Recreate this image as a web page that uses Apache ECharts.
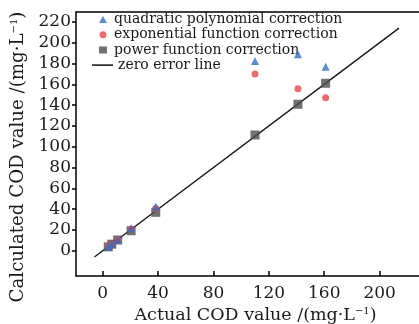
<!DOCTYPE html>
<html><head><meta charset="utf-8">
<script src="https://cdn.jsdelivr.net/npm/echarts@6/dist/echarts.min.js"></script>
<style>html,body{margin:0;padding:0;background:#fff}#c{width:419px;height:324px}</style>
</head><body><div id="c"></div>
<script>
const actual = [4, 6.5, 10.8, 20.5, 38.3, 110, 141, 161];
const quadratic = [3.8, 6.6, 10.6, 21.5, 42.3, 182.4, 188.8, 176.9];
const exponential = [3.9, 6.5, 10.4, 20.8, 40.6, 169.9, 155.8, 147.1];
const power = [3.7, 6.3, 10.3, 19.2, 36.9, 111.3, 140.8, 161];
const zeroLineX = [-6, 214];
const xTicks = [0, 40, 80, 120, 160, 200];
const yTicks = [0, 20, 40, 60, 80, 100, 120, 140, 160, 180, 200, 220];
const names = ['quadratic polynomial correction','exponential function correction','power function correction','zero error line'];

const font = 'DejaVu Serif';
const txt = '#1a1a1a';
const pair = (xs, ys) => xs.map((x, i) => [x, ys[i]]);
const chart = echarts.init(document.getElementById('c'), null, {renderer: 'canvas'});
chart.setOption({
  animation: false,
  backgroundColor: '#fff',
  grid: {left: 76, top: 12, width: 359, height: 264, outerBoundsMode: 'none', containLabel: false},
  legend: [{
    orient: 'vertical', left: 94, top: 7, itemGap: 0, itemWidth: 8, itemHeight: 7,
    textStyle: {fontFamily: font, fontSize: 14, color: txt, lineHeight: 15.2, padding: [0, 0, 0, 2]},
    data: [
      {name: names[0], icon: 'triangle'},
      {name: names[1], icon: 'circle'},
      {name: names[2], icon: 'rect'}
    ]
  }, {
    orient: 'vertical', left: 87, top: 52.5, itemGap: 0, itemWidth: 21, itemHeight: 1.5,
    textStyle: {fontFamily: font, fontSize: 14, color: txt, lineHeight: 15.2},
    data: [{name: names[3], icon: 'rect', itemStyle: {color: '#111'}}]
  }],
  xAxis: [{
    type: 'value', min: -19.3, max: 240, interval: 40,
    axisLine: {onZero: false, lineStyle: {color: '#000', width: 1.5}},
    axisTick: {show: true, inside: true, length: 5, lineStyle: {color: '#000', width: 1.5}, customValues: xTicks},
    axisLabel: {fontFamily: font, fontSize: 17, color: txt, margin: 9, customValues: xTicks},
    splitLine: {show: false},
    name: '{a|Actual COD value /(mg·L}{s|−1}{a|)}',
    nameLocation: 'middle', nameGap: 26,
    nameTextStyle: {rich: {a: {fontFamily: font, fontSize: 17.5, color: txt},
      s: {fontFamily: font, fontSize: 10, color: txt, padding: [0, 0, 8, 0]}}}
  }, {
    type: 'value', position: 'top', min: -19.3, max: 240,
    axisLine: {show: true, onZero: false, lineStyle: {color: '#000', width: 1.5}},
    axisTick: {show: false}, axisLabel: {show: false}, splitLine: {show: false}
  }],
  yAxis: {
    type: 'value', min: -24.3, max: 229.5,
    axisLine: {onZero: false, lineStyle: {color: '#000', width: 1.5}},
    axisTick: {show: true, length: 4, lineStyle: {color: '#000', width: 1.5}, customValues: yTicks},
    axisLabel: {fontFamily: font, fontSize: 17, color: txt, margin: 5, customValues: yTicks},
    splitLine: {show: false},
    name: '{a|Calculated COD value /(mg·L}{s|−1}{a|)}',
    nameLocation: 'middle', nameGap: 45, nameRotate: 90,
    nameTextStyle: {padding: [0, 26, 0, 0], rich: {a: {fontFamily: font, fontSize: 18.2, color: txt},
      s: {fontFamily: font, fontSize: 10, color: txt, padding: [0, 0, 8, 0]}}}
  },
  series: [
    {name: names[3], type: 'line', data: pair(zeroLineX, zeroLineX), symbol: 'none',
      lineStyle: {color: '#111', width: 1.3}, itemStyle: {color: '#111'}, z: 1},
    {name: names[2], type: 'scatter', data: pair(actual, power), symbol: 'rect', symbolSize: 9,
      itemStyle: {color: '#4d4d4d'}, z: 2},
    {name: names[1], type: 'scatter', data: pair(actual, exponential), symbol: 'circle', symbolSize: 7,
      itemStyle: {color: '#e8464c'}, z: 3},
    {name: names[0], type: 'scatter', data: pair(actual, quadratic), symbol: 'triangle', symbolSize: 8,
      itemStyle: {color: '#2f6fc4'}, z: 4}
  ]
});
</script></body></html>
